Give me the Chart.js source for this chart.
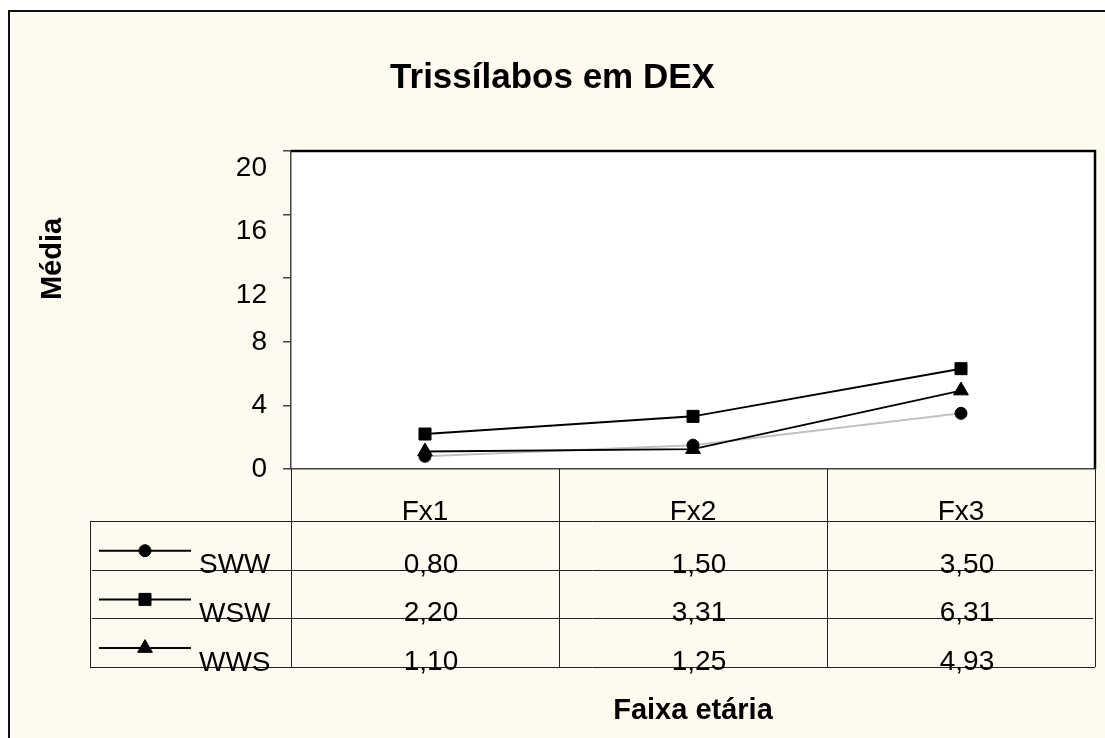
<!DOCTYPE html>
<html><head><meta charset="utf-8">
<script src="https://cdn.jsdelivr.net/npm/chart.js@4.4.1/dist/chart.umd.min.js"></script>
<style>html,body{margin:0;padding:0;background:#fff;}canvas{display:block;}</style>
</head><body>
<canvas id="c" width="1105" height="738"></canvas>
<script>
const chartTitle = 'Trissílabos em DEX';
const yAxisTitle = 'Média';
const xAxisTitle = 'Faixa etária';
const categories = ['Fx1', 'Fx2', 'Fx3'];
const seriesNames = ['SWW', 'WSW', 'WWS'];
const sww = [0.80, 1.50, 3.50];
const wsw = [2.20, 3.31, 6.31];
const wws = [1.10, 1.25, 4.93];
const yTicks = [0, 4, 8, 12, 16, 20];

const FONT = 'Liberation Sans, Arial, sans-serif';
Chart.defaults.font.family = FONT;
Chart.defaults.color = '#000';

const fmt = v => v.toFixed(2).replace('.', ',');

const bgPlugin = {
  id: 'bg',
  beforeDraw(chart) {
    const ctx = chart.ctx, a = chart.chartArea;
    ctx.save();
    ctx.fillStyle = '#ffffff';
    ctx.fillRect(0, 0, chart.width, chart.height);
    ctx.fillStyle = '#FFFAF0';
    ctx.fillRect(9, 11, chart.width, chart.height);
    ctx.strokeStyle = '#111';
    ctx.lineWidth = 2;
    ctx.strokeRect(9, 11, chart.width + 20, chart.height + 20);
    ctx.fillStyle = '#ffffff';
    ctx.fillRect(a.left, a.top, a.right - a.left, a.bottom - a.top);
    ctx.restore();
  }
};

const tablePlugin = {
  id: 'table',
  afterDraw(chart) {
    const ctx = chart.ctx, a = chart.chartArea;
    const xs = chart.scales.x, ys = chart.scales.y;
    ctx.save();
    // plot border top & right
    ctx.strokeStyle = '#000';
    ctx.lineWidth = 2.5;
    ctx.beginPath();
    ctx.moveTo(a.left, a.top);
    ctx.lineTo(a.right, a.top);
    ctx.lineTo(a.right, a.bottom);
    ctx.stroke();

    // Y tick labels (upper labels sit lower than their tick marks in the reference)
    ctx.fillStyle = '#000';
    ctx.font = '28px ' + FONT;
    ctx.textAlign = 'right';
    ctx.textBaseline = 'middle';
    ys.ticks.forEach(t => {
      const shift = t.value >= 12 ? 17 : 0;
      ctx.fillText(String(t.value), a.left - 24, ys.getPixelForValue(t.value) + shift);
    });

    // Y title
    ctx.save();
    ctx.translate(53, 259);
    ctx.rotate(-Math.PI / 2);
    ctx.font = 'bold 29px ' + FONT;
    ctx.textAlign = 'center';
    ctx.textBaseline = 'middle';
    ctx.fillText(yAxisTitle, 0, 0);
    ctx.restore();

    // table geometry
    const n = categories.length;
    const cw = xs.getPixelForValue(1) - xs.getPixelForValue(0);
    const bounds = [];
    for (let i = 0; i < n; i++) bounds.push(xs.getPixelForValue(i) - cw / 2);
    bounds.push(xs.getPixelForValue(n - 1) + cw / 2);
    const top = a.bottom;
    const headerBottom = top + 52;
    const rowH = 48.7;
    const rowBottoms = seriesNames.map((_, i) => headerBottom + rowH * (i + 1));
    const tableBottom = rowBottoms[rowBottoms.length - 1];
    const tableLeft = 90;

    ctx.strokeStyle = '#222';
    ctx.lineWidth = 1;
    ctx.beginPath();
    bounds.forEach(x => { ctx.moveTo(Math.round(x) + 0.5, top); ctx.lineTo(Math.round(x) + 0.5, tableBottom); });
    ctx.moveTo(tableLeft + 0.5, headerBottom); ctx.lineTo(tableLeft + 0.5, tableBottom);
    ctx.moveTo(tableLeft, Math.round(headerBottom) + 0.5); ctx.lineTo(a.right, Math.round(headerBottom) + 0.5);
    rowBottoms.forEach((y, i) => {
      const last = i === rowBottoms.length - 1;
      ctx.moveTo(last ? tableLeft : tableLeft + 2, Math.round(y) + 0.5);
      ctx.lineTo(last ? a.right : a.right - 2, Math.round(y) + 0.5);
    });
    ctx.stroke();

    ctx.fillStyle = '#000';
    ctx.font = '28px ' + FONT;
    ctx.textBaseline = 'alphabetic';
    ctx.textAlign = 'center';
    categories.forEach((c, i) => ctx.fillText(c, xs.getPixelForValue(i), headerBottom - 1));

    const datasets = chart.data.datasets;
    datasets.forEach((ds, r) => {
      const yb = rowBottoms[r];
      const ky = yb - 19;
      ctx.strokeStyle = '#000';
      ctx.lineWidth = 2;
      ctx.beginPath();
      ctx.moveTo(99, ky); ctx.lineTo(191, ky);
      ctx.stroke();
      ctx.fillStyle = '#000';
      ctx.strokeStyle = '#000';
      ctx.lineWidth = 1;
      Chart.helpers.drawPoint(ctx, { pointStyle: ds.pointStyle, radius: ds.pointRadius, rotation: 0, borderWidth: 1 }, 145, ky);
      ctx.textAlign = 'left';
      ctx.fillText(ds.label, 199, yb + 3.5);
      ctx.textAlign = 'center';
      ds.data.forEach((v, i) => ctx.fillText(fmt(v), xs.getPixelForValue(i) + 6, yb + 3));
    });
    ctx.restore();
  }
};

const mk = (label, data, color, style, radius, order) => ({
  label, data,
  borderColor: color, borderWidth: 2,
  pointStyle: style, pointRadius: radius, pointHoverRadius: radius,
  pointBackgroundColor: '#000', pointBorderColor: '#000', pointBorderWidth: 1,
  tension: 0, fill: false, order, clip: false
});

new Chart(document.getElementById('c'), {
  type: 'line',
  data: {
    labels: categories,
    datasets: [
      mk(seriesNames[0], sww, '#C0C0C0', 'circle', 6, 3),
      mk(seriesNames[1], wsw, '#000000', 'rect', 8.5, 1),
      mk(seriesNames[2], wws, '#000000', 'triangle', 8.5, 2)
    ]
  },
  options: {
    responsive: false,
    devicePixelRatio: 1,
    animation: false,
    events: [],
    layout: { padding: { left: 10, right: 10, top: 0, bottom: 0 } },
    plugins: {
      legend: { display: false },
      tooltip: { enabled: false },
      title: {
        display: true, text: chartTitle, color: '#000',
        font: { size: 35, weight: 'bold', lineHeight: 1.2 },
        padding: { top: 57, bottom: 52 }
      }
    },
    scales: {
      x: {
        type: 'category', offset: true,
        grid: { display: false, drawTicks: false },
        border: { display: true, color: '#444', width: 1.5 },
        ticks: { display: false },
        title: {
          display: true, text: xAxisTitle, color: '#000',
          font: { size: 29, weight: 'bold', lineHeight: 1.2 },
          padding: { top: 224.6, bottom: 9.6 }
        }
      },
      y: {
        min: 0, max: 20,
        afterBuildTicks: s => { s.ticks = yTicks.map(v => ({ value: v })); },
        afterFit: s => { s.width = 281; },
        grid: { display: true, drawOnChartArea: false, drawTicks: true, tickLength: 8, color: '#444', lineWidth: 1.5 },
        border: { display: true, color: '#444', width: 1.5 },
        ticks: { display: false }
      }
    }
  },
  plugins: [bgPlugin, tablePlugin]
});
</script>
</body></html>
